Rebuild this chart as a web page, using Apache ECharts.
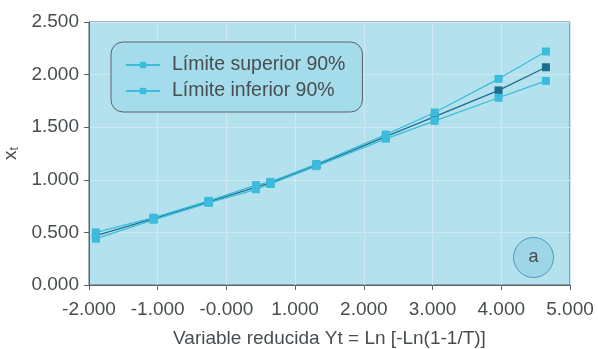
<!DOCTYPE html>
<html><head><meta charset="utf-8">
<script src="https://cdn.jsdelivr.net/npm/echarts@6/dist/echarts.min.js"></script>
<style>html,body{margin:0;padding:0;background:#fff}#c{width:598px;height:349px}</style>
</head><body><div id="c"></div>
<script>
var xVals = [-1.90, -1.06, -0.26, 0.43, 0.64, 1.31, 2.32, 3.03, 3.96, 4.65];
var upper = [0.50, 0.64, 0.80, 0.95, 0.98, 1.15, 1.43, 1.64, 1.96, 2.22];
var mid   = [0.47, 0.63, 0.79, 0.93, 0.97, 1.14, 1.41, 1.60, 1.85, 2.07];
var lower = [0.44, 0.62, 0.78, 0.91, 0.96, 1.13, 1.39, 1.56, 1.78, 1.94];
var seriesNames = ['Límite superior 90%', 'Límite inferior 90%', 'Estimación'];
var xTitle = 'Variable reducida Yt = Ln [-Ln(1-1/T)]';

function pairs(ys){ return xVals.map(function(x,i){ return [x, ys[i]]; }); }
var light = '#3cbcdc', dark = '#1c6f8c', txt = '#474d50', font = 'Liberation Sans';
function fmt(v){ var s = v.toFixed(3); if (v === 0) s = '-0.000'; return s; }

var chart = echarts.init(document.getElementById('c'));
chart.setOption({
  backgroundColor: '#fff',
  animation: false,
  textStyle: { fontFamily: font },
  grid: { left: 89, right: 28, top: 22, bottom: 64, show: true, containLabel: false, outerBoundsMode: 'none',
          backgroundColor: '#b4e1ee', borderColor: '#5a6468', borderWidth: 1 },
  legend: {
    data: [seriesNames[0], seriesNames[1]],
    orient: 'vertical', left: 111, top: 42, padding: [13, 17, 11, 14], itemGap: 6,
    backgroundColor: '#a4dcec', borderColor: '#5a6468', borderWidth: 1, borderRadius: 12,
    itemWidth: 34, itemHeight: 8,
    textStyle: { fontSize: 19.5, color: txt, fontFamily: font, padding: [0, 0, 0, 7] }
  },
  xAxis: {
    type: 'value', min: -2, max: 5, interval: 1,
    name: xTitle, nameLocation: 'middle', nameGap: 44,
    nameTextStyle: { fontSize: 19, color: txt },
    axisLine: { onZero: false, lineStyle: { color: '#5a6468' } },
    axisTick: { show: true, length: 5, lineStyle: { color: '#5a6468' } },
    axisLabel: { fontSize: 19, color: txt, margin: 15, formatter: fmt },
    splitLine: { show: true, lineStyle: { color: '#cdeaf2', width: 1 } }
  },
  yAxis: {
    type: 'value', min: 0, max: 2.5, interval: 0.5,
    name: '{x|x}{s|t}', nameLocation: 'middle', nameGap: 64, nameRotate: 90,
    nameTextStyle: { rich: { x: { fontSize: 19, color: txt }, s: { fontSize: 12, color: txt, verticalAlign: 'bottom', padding: [8,0,0,0] } } },
    axisLine: { show: true, onZero: false, lineStyle: { color: '#5a6468' } },
    axisTick: { show: true, length: 5, lineStyle: { color: '#5a6468' } },
    axisLabel: { fontSize: 19, color: txt, margin: 10, formatter: function(v){ return v.toFixed(3); } },
    splitLine: { show: true, lineStyle: { color: '#cdeaf2', width: 1 } }
  },
  series: [
    { name: seriesNames[2], type: 'line', data: pairs(mid), symbol: 'rect', symbolSize: 8,
      lineStyle: { color: dark, width: 1.3 }, itemStyle: { color: dark }, z: 2 },
    { name: seriesNames[0], type: 'line', data: pairs(upper), symbol: 'rect', symbolSize: 8,
      lineStyle: { color: light, width: 1.3 }, itemStyle: { color: light }, z: 3 },
    { name: seriesNames[1], type: 'line', data: pairs(lower), symbol: 'rect', symbolSize: 8,
      lineStyle: { color: light, width: 1.3 }, itemStyle: { color: light }, z: 3 }
  ],
  graphic: [{
    type: 'group', left: 513, top: 237,
    children: [
      { type: 'circle', shape: { cx: 20, cy: 20, r: 20 }, style: { fill: '#9ed6e8', stroke: '#4b9bb5', lineWidth: 1 } },
      { type: 'text', style: { x: 20, y: 20, text: 'a', fill: txt, fontSize: 18, fontFamily: font, align: 'center', verticalAlign: 'middle' } }
    ]
  }]
});
</script></body></html>
